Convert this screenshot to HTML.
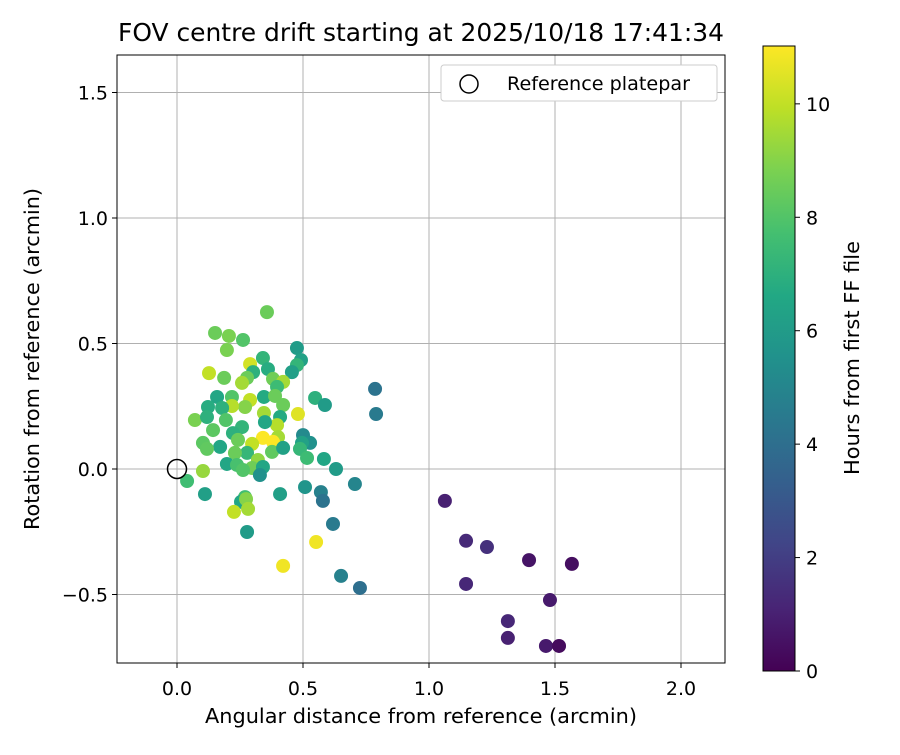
<!DOCTYPE html>
<html><head><meta charset="utf-8"><style>
body{margin:0;background:#fff}
svg text{font-family:"DejaVu Sans","Liberation Sans",sans-serif;fill:#000}
</style></head><body>
<svg id="chart" width="900" height="750" xmlns="http://www.w3.org/2000/svg">
<defs>
<linearGradient id="vir" x1="0" y1="1" x2="0" y2="0">
<stop offset="0" stop-color="#440154"/><stop offset="0.1" stop-color="#482475"/><stop offset="0.2" stop-color="#414487"/><stop offset="0.3" stop-color="#355f8d"/><stop offset="0.4" stop-color="#2a788e"/><stop offset="0.5" stop-color="#21918c"/><stop offset="0.6" stop-color="#22a884"/><stop offset="0.7" stop-color="#44bf70"/><stop offset="0.8" stop-color="#7ad151"/><stop offset="0.9" stop-color="#bddf26"/><stop offset="1" stop-color="#fde725"/>
</linearGradient>
<clipPath id="clip"><rect x="117" y="55" width="608" height="608"/></clipPath>
</defs>
<rect width="900" height="750" fill="#fff"/>
<g id="grid"></g>
<g id="pts" clip-path="url(#clip)"></g>
<circle cx="177" cy="469" r="9.5" fill="none" stroke="#000" stroke-width="1.5"/>
<rect x="117" y="55" width="608" height="608" fill="none" stroke="#000" stroke-width="1"/>
<g id="ticks"></g>
<text x="421" y="41" font-size="24.5" text-anchor="middle" textLength="606" lengthAdjust="spacingAndGlyphs">FOV centre drift starting at 2025/10/18 17:41:34</text>
<text x="421" y="723" font-size="20" text-anchor="middle" textLength="432" lengthAdjust="spacingAndGlyphs">Angular distance from reference (arcmin)</text>
<text transform="translate(39,359) rotate(-90)" font-size="20" text-anchor="middle" textLength="342" lengthAdjust="spacingAndGlyphs">Rotation from reference (arcmin)</text>
<g>
<rect x="441" y="65" width="276" height="36" rx="3" fill="#fff" stroke="#ccc"/>
<circle cx="469" cy="84" r="9" fill="none" stroke="#000" stroke-width="1.5"/>
<text x="507" y="90" font-size="19" textLength="183" lengthAdjust="spacingAndGlyphs">Reference platepar</text>
</g>
<rect x="763" y="46" width="32" height="625" fill="url(#vir)" stroke="#000" stroke-width="1"/>
<g id="cbticks"></g>
<text transform="translate(859,358) rotate(-90)" font-size="20" text-anchor="middle" textLength="234" lengthAdjust="spacingAndGlyphs">Hours from first FF file</text>
</svg>
<script>
const xs=[1.063,1.147,1.230,1.397,1.567,1.147,1.480,1.313,1.313,1.464,1.516,
0.357,0.151,0.206,0.262,0.198,0.476,0.492,0.476,0.456,0.341,0.290,0.302,0.361,0.127,0.187,0.278,0.258,0.381,0.421,0.397,0.159,0.218,0.290,0.270,0.345,0.389,0.421,0.218,0.123,0.179,0.548,0.587,0.345,0.480,0.409,0.071,0.119,0.194,0.397,0.143,0.258,0.222,0.349,0.401,0.341,0.381,0.298,0.500,0.528,0.496,0.103,0.242,0.171,0.119,0.278,0.230,0.377,0.421,0.488,0.516,0.583,0.631,0.706,0.321,0.198,0.238,0.298,0.262,0.341,0.329,0.103,0.040,0.111,0.270,0.254,0.274,0.226,0.282,0.409,0.508,0.571,0.579,0.619,0.278,0.552,0.786,0.790,0.651,0.726,0.421];
const ys=[-0.127,-0.286,-0.311,-0.363,-0.378,-0.458,-0.522,-0.606,-0.673,-0.705,-0.705,
0.625,0.542,0.530,0.514,0.474,0.482,0.434,0.414,0.386,0.442,0.418,0.386,0.398,0.382,0.363,0.363,0.343,0.359,0.347,0.327,0.287,0.287,0.275,0.247,0.287,0.291,0.255,0.251,0.247,0.243,0.283,0.255,0.223,0.219,0.207,0.195,0.207,0.195,0.175,0.155,0.167,0.143,0.187,0.127,0.124,0.108,0.100,0.135,0.104,0.104,0.104,0.116,0.088,0.080,0.064,0.064,0.068,0.084,0.080,0.044,0.040,0.000,-0.060,0.036,0.020,0.016,0.004,-0.004,0.008,-0.024,-0.008,-0.048,-0.100,-0.112,-0.131,-0.120,-0.171,-0.159,-0.100,-0.072,-0.092,-0.127,-0.219,-0.251,-0.291,0.319,0.219,-0.426,-0.474,-0.386];
const hours=[1.0,1.3,1.5,0.6,0.4,1.2,0.8,1.2,1.0,0.8,0.3,
8.5,8.5,8.8,8,8.8,6,6.3,7.2,6.2,7.2,10.3,7,6.8,10,8.5,8.5,9.5,8.6,9.5,7.5,6.5,8,10,9,6.7,8.5,8.5,9.8,6.8,7,7,6,9.5,10.5,6.7,8.8,7,8,9.8,8.2,7.2,7,6.5,9.5,11,11,10,5.2,5.5,6.3,8.2,8.5,6.5,8.3,7.3,8.5,8.3,6.3,7.3,7.5,6.5,6,5,9.2,6.5,7.8,8.6,8,6.5,5.5,9.3,7.6,6.2,7.6,6.5,9,10,9.5,6.2,5.7,4.8,4.2,4.5,6,10.8,4.2,4.5,4.8,4,10.8];
const xTicks=[0,0.5,1.0,1.5,2.0];
const yTicks=[-0.5,0,0.5,1.0,1.5];
const cTicks=[0,2,4,6,8,10];
const X=v=>177+v*252, Y=v=>469-v*251, C=v=>671-v*(625/11.02);
const vir=["#440154","#482475","#414487","#355f8d","#2a788e","#21918c","#22a884","#44bf70","#7ad151","#bddf26","#fde725"];
function col(h){let t=Math.max(0,Math.min(1,h/11.02))*10,i=Math.min(9,Math.floor(t)),f=t-i;
const a=vir[i],b=vir[i+1],p=(s,k)=>parseInt(s.substr(k,2),16);
let r=[1,3,5].map(k=>Math.round(p(a,k)+(p(b,k)-p(a,k))*f));return `rgb(${r})`;}
const NS="http://www.w3.org/2000/svg";
function mk(t,at,par){const e=document.createElementNS(NS,t);for(const k in at)e.setAttribute(k,at[k]);document.getElementById(par).appendChild(e);return e;}
xTicks.forEach(v=>{
 const g=mk("line",{x1:X(v),x2:X(v),y1:55,y2:663,stroke:"#b0b0b0","stroke-width":1},"grid");
 
 
 const t=mk("line",{x1:X(v),x2:X(v),y1:663,y2:668,stroke:"#000"},"ticks");
 
 
 const l=mk("text",{x:X(v),y:695,"font-size":19,"text-anchor":"middle"},"ticks");l.textContent=v.toFixed(1);
 
 
});
yTicks.forEach(v=>{
 const g=mk("line",{x1:117,x2:725,y1:Y(v),y2:Y(v),stroke:"#b0b0b0","stroke-width":1},"grid");
 
 
 const t=mk("line",{x1:112,x2:117,y1:Y(v),y2:Y(v),stroke:"#000"},"ticks");
 
 
 const l=mk("text",{x:108,y:Y(v)+7,"font-size":19,"text-anchor":"end"},"ticks");l.textContent=v<0?"\u2212"+Math.abs(v).toFixed(1):v.toFixed(1);
 
 
});
cTicks.forEach(v=>{
 const t=mk("line",{x1:795,x2:800,y1:C(v),y2:C(v),stroke:"#000"},"cbticks");
 
 
 const l=mk("text",{x:806,y:C(v)+7,"font-size":19},"cbticks");l.textContent=v;
 
 
});
xs.forEach((x,i)=>{
 const c=mk("circle",{cx:X(x),cy:Y(ys[i]),r:7,fill:col(hours[i])},"pts");
 
 
});
</script>
</body></html>
